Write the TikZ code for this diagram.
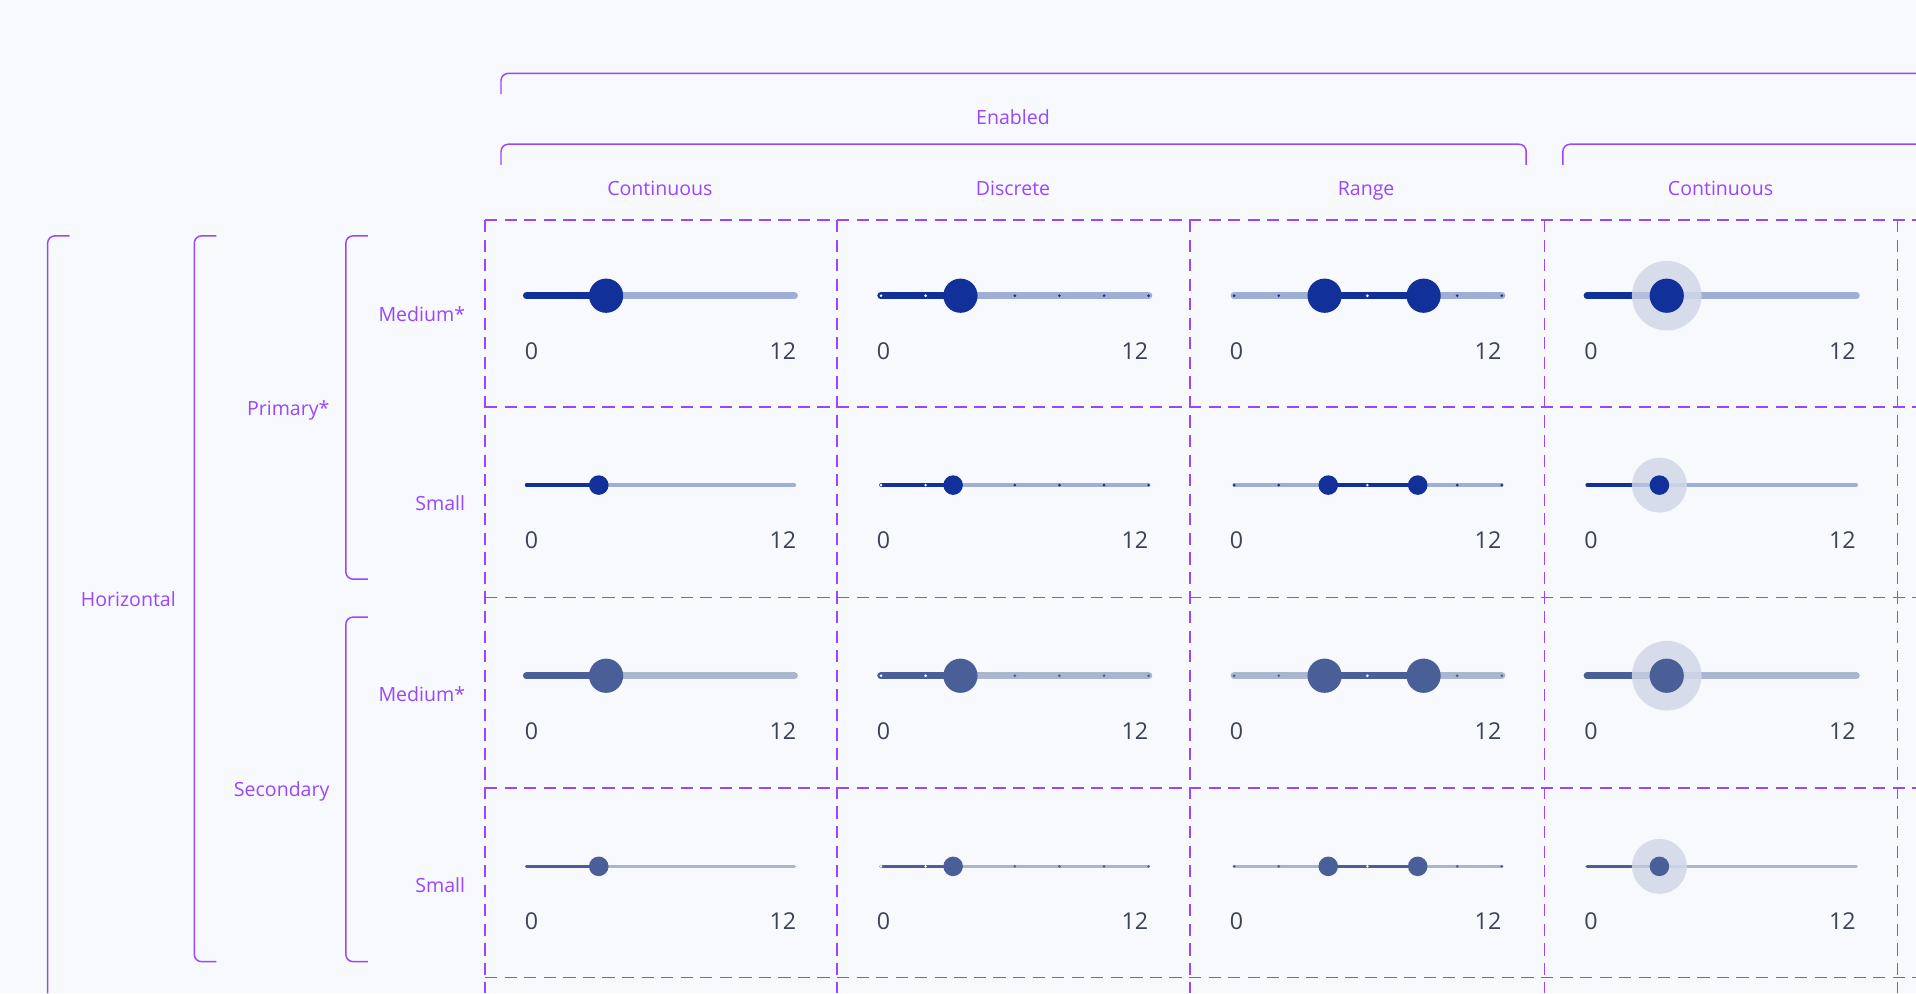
\documentclass[tikz,border=0pt]{standalone}
\usepackage{fontspec}
\setmainfont{Open Sans}
\usetikzlibrary{positioning}
\definecolor{bgc}{HTML}{F8F9FC}
\definecolor{frame}{HTML}{9747FF}
\definecolor{numc}{HTML}{3A4256}
\definecolor{pact}{HTML}{11309A}
\definecolor{pinact}{HTML}{9EAED6}
\definecolor{sact}{HTML}{4A5E98}
\definecolor{sinact}{HTML}{AAB5D0}
\definecolor{halo}{HTML}{D1D8E8}
\tikzset{
	lbl/.style={text=frame, font=\fontsize{8}{9}\selectfont, inner sep=0pt, anchor=base},
	num/.style={text=numc, font=\fontsize{9.5}{10}\selectfont, inner sep=0pt},
	brk/.style={draw=frame, line width=0.6pt, rounded corners=3pt},
	grid/.style={draw=frame, line width=0.6pt, dash pattern=on 5pt off 3pt}
}
\begin{document}
\begin{tikzpicture}[x=0.5pt,y=-0.5pt]
	\fill[bgc] (0,0) rectangle (1568,813);
	\useasboundingbox (0,0) rectangle (1568,813);
	% Top brackets
	\draw[brk] (410,77) |- (1568,60);
	\node[lbl] (en) at (829,102) {Enabled};
	\draw[brk] (410,135) |- (1249,118) -- (1249,135);
	\draw[brk] (1279,135) |- (1568,118);
	\node[lbl] (c1) at (540,160) {Continuous};
	\node[lbl] (c2) at (829,160) {Discrete};
	\node[lbl] (c3) at (1118,160) {Range};
	\node[lbl] (c4) at (1408,160) {Continuous};
	% Left brackets
	\draw[brk] (57,193) -| (39,813);
	\draw[brk] (177,193) -| (159,787) -- (177,787);
	\draw[brk] (301,193) -| (283,474) -- (301,474);
	\draw[brk] (301,505) -| (283,787) -- (301,787);
	\node[lbl] (hor) at (105,496) {Horizontal};
	\node[lbl, anchor=base east] (pri) at (270,340) {Primary*};
	\node[lbl, anchor=base east] (sec) at (270,652) {Secondary};
	\node[lbl, anchor=base east] (r1) at (381,263) {Medium*};
	\node[lbl, anchor=base east] (r2) at (381,418) {Small};
	\node[lbl, anchor=base east] (r3) at (381,574) {Medium*};
	\node[lbl, anchor=base east] (r4) at (381,730) {Small};
	% Grid
	\foreach \gx in {397,685,974,1264,1553} \draw[grid] (\gx,180) -- (\gx,813);
	\foreach \gy in {180,333,489,645,800} \draw[grid] (397,\gy) -- (1568,\gy);
	% Sliders
	\foreach \ry/\act/\ina/\tw/\tr/\dd in {180/pact/pinact/3/14/0, 335/pact/pinact/1.5/8/6, 491/sact/sinact/3/14/0, 647/sact/sinact/1.5/8/6}{
		\foreach \cx in {397,685,974,1264}{
			\node[num] at (\cx+38,\ry+107) {0};
			\node[num, anchor=east] at (\cx+255,\ry+107) {12};
		}
		% continuous
		\draw[\ina, line width=\tw pt, line cap=round] (431,\ry+62) -- (650,\ry+62);
		\draw[\act, line width=\tw pt, line cap=round] (431,\ry+62) -- (496-\dd,\ry+62);
		\fill[\act] (496-\dd,\ry+62) circle (\tr);
		% discrete
		\draw[\ina, line width=\tw pt, line cap=round] (721,\ry+62) -- (940,\ry+62);
		\draw[\act, line width=\tw pt, line cap=round] (721,\ry+62) -- (786-\dd,\ry+62);
		\foreach \i in {0,1} \fill[white] (721+36.5*\i,\ry+62) circle (1.2);
		\foreach \i in {3,...,6} \fill[\act] (721+36.5*\i,\ry+62) circle (1.2);
		\fill[\act] (786-\dd,\ry+62) circle (\tr);
		% range
		\draw[\ina, line width=\tw pt, line cap=round] (1010,\ry+62) -- (1229,\ry+62);
		\draw[\act, line width=\tw pt] (1084+0.5*\dd,\ry+62) -- (1165-0.8*\dd,\ry+62);
		\foreach \i in {0,1,5,6} \fill[\act] (1010+36.5*\i,\ry+62) circle (1.2);
		\fill[white] (1119,\ry+62) circle (1.2);
		\fill[\act] (1084+0.5*\dd,\ry+62) circle (\tr);
		\fill[\act] (1165-0.8*\dd,\ry+62) circle (\tr);
		% continuous with halo
		\draw[\ina, line width=\tw pt, line cap=round] (1299,\ry+62) -- (1519,\ry+62);
		\draw[\act, line width=\tw pt, line cap=round] (1299,\ry+62) -- (1364-\dd,\ry+62);
		\fill[halo, opacity=0.85] (1364-\dd,\ry+62) circle (\tr+14.5);
		\fill[\act] (1364-\dd,\ry+62) circle (\tr);
	}
\end{tikzpicture}
\end{document}
